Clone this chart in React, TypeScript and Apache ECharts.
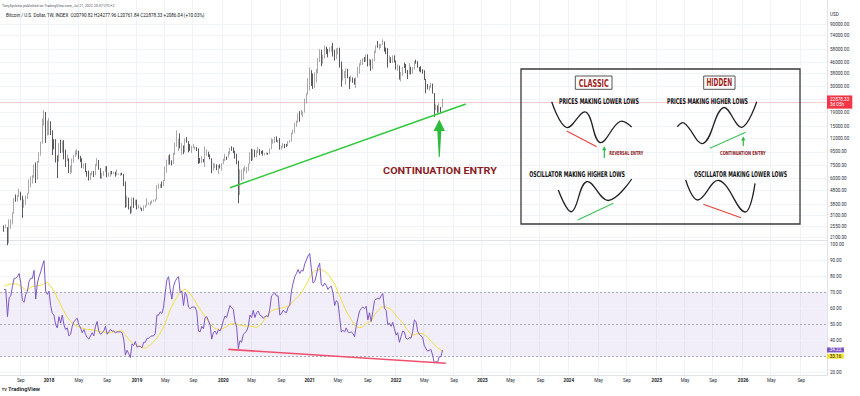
import React, { useEffect, useRef } from 'react';
import * as echarts from 'echarts';

// ---------------- data ----------------
const weekStart = '2017-06-12';
const weekTotal = 498;
const candleStartIndex = 2; // first candle = week of 2017-06-26
const firstOpen = 2590;

const closes: number[] = [
  // 2017
  2500, 2510, 1930, 2740, 2860, 3240, 4100, 4080, 4370, 4580, 4230, 3680, 3780, 4390, 4600, 5700, 6000, 6150, 7380, 5950, 8000, 9300, 11250, 15200, 19100, 13900, 14150,
  // 2018
  16200, 13600, 11550, 11500, 8250, 8080, 10380, 9600, 11450, 9550, 8200, 8450, 6800, 7000, 8350, 8900, 9400, 9650, 8700, 8250, 7350, 7700, 6750, 6500, 6150, 6380, 6750, 6350, 7400, 8200, 7000, 6300, 6400, 6700, 7300, 6250, 6500, 6700, 6600, 6600, 6350, 6400, 6400, 6400, 6350, 5600, 3800, 4000, 3600, 3250, 3950, 3850,
  // 2019
  4000, 3550, 3550, 3550, 3420, 3650, 3660, 3850, 3850, 3950, 4000, 4000, 4100, 5100, 5150, 5300, 5250, 5750, 6950, 8000, 8700, 8050, 8000, 9300, 10800, 10800, 11500, 10200, 10600, 9500, 11800, 11350, 10250, 10150, 10300, 10300, 10300, 10050, 8050, 7950, 8300, 8250, 9200, 9300, 9050, 8500, 7050, 7400, 7550, 7100, 7500, 7400, 7750,
  // 2020
  8200, 8700, 8600, 9300, 10100, 9700, 9650, 8550, 8000, 5350, 5850, 5900, 6800, 6900, 7150, 7700, 8900, 8750, 9700, 8900, 9450, 9750, 9350, 9300, 9000, 9100, 9250, 9200, 9950, 11100, 11550, 11900, 11650, 11700, 10250, 10330, 10920, 10780, 10660, 11380, 11500, 13050, 13800, 15480, 16000, 18700, 18200, 19150, 19250, 23850, 26450, 33000,
  // 2021
  38150, 35800, 32250, 33100, 38850, 48600, 57400, 45200, 50950, 59000, 57400, 55800, 58200, 60000, 56200, 49100, 56650, 58250, 46400, 34700, 35650, 35800, 39100, 35500, 34700, 35300, 34250, 31800, 35400, 39850, 44600, 47050, 48950, 48850, 51800, 45200, 48300, 42700, 48200, 54950, 61500, 61300, 61300, 63300, 65500, 59700, 57200, 49400, 50100, 46700, 50800, 47300,
  // 2022
  41850, 43100, 36300, 38200, 42400, 42200, 38400, 37700, 38400, 37800, 41300, 46850, 46400, 42250, 40400, 39500, 38500, 34300, 31300, 29450, 29450, 29850, 26600, 20550, 21050, 19300, 20850, 20790.82, 22878.33,
];

const highs: number[] = [
  2610, 2650, 2530, 2900, 2900, 3290, 4200, 4490, 4440, 4980, 4720, 4400, 4120, 4400, 4620, 5860, 6190, 6300, 7600, 7900, 8100, 9450, 11400, 17100, 19800, 19200, 16500,
  17250, 16300, 13900, 11900, 11900, 8950, 11100, 11800, 11600, 11700, 9900, 9100, 8500, 7500, 8450, 9000, 9750, 9950, 9700, 8870, 8500, 7750, 7790, 6800, 6850, 6550, 6800, 6800, 7700, 8500, 8250, 7150, 6600, 6800, 7400, 7400, 6600, 6800, 6800, 6700, 6700, 7000, 6500, 6550, 6600, 6450, 5650, 4400, 4250, 3650, 4250, 4250,
  4100, 4100, 3750, 3650, 3550, 3700, 3720, 4200, 3900, 3980, 4050, 4100, 4150, 5300, 5450, 5400, 5650, 5800, 7350, 8300, 8950, 9100, 8200, 9350, 11200, 13900, 12000, 13200, 11100, 10650, 12000, 12350, 11500, 10950, 10600, 10950, 10450, 10350, 10100, 8550, 8800, 8400, 10500, 9950, 9550, 9100, 8500, 7850, 7750, 7650, 7550, 7650, 7800,
  8450, 9200, 8750, 9600, 10200, 10500, 10300, 9700, 9200, 8150, 7000, 6950, 7200, 7450, 7300, 7750, 9450, 10050, 9950, 9900, 9750, 10400, 10000, 9650, 9800, 9300, 9450, 9350, 10150, 12100, 11900, 12400, 12500, 11800, 12100, 10600, 11100, 10950, 10950, 11500, 11750, 13350, 14100, 15950, 16500, 18800, 19500, 19900, 19400, 24300, 26800, 34800,
  41950, 40100, 37850, 38600, 40950, 49700, 58300, 57500, 52600, 61800, 60600, 58400, 60100, 61300, 64900, 57500, 59000, 59500, 59600, 46600, 40900, 39500, 41300, 41000, 35700, 36600, 35300, 34700, 35450, 42600, 45300, 48150, 49500, 50500, 52950, 52900, 48800, 48300, 49200, 56600, 62000, 67000, 63750, 63600, 69000, 66400, 59800, 59100, 51950, 50350, 52100, 52050,
  47550, 44450, 43500, 38950, 42600, 45850, 44700, 40300, 45400, 42600, 42400, 47000, 48200, 47000, 42400, 42950, 40800, 40050, 34300, 31400, 30650, 32200, 31700, 26800, 22000, 21550, 22400, 21000, 24277.96,
];

const lows: number[] = [
  2330, 2480, 1840, 1900, 2450, 2650, 3200, 3950, 3950, 4300, 4060, 2980, 3560, 3740, 4150, 4550, 5100, 5450, 6030, 5500, 5850, 7850, 8900, 11000, 15100, 11150, 12700,
  12800, 12800, 9000, 9950, 7900, 6000, 8000, 9300, 9400, 8350, 7300, 8100, 6550, 6450, 6600, 7850, 8700, 8950, 8350, 7950, 7150, 7050, 6650, 6150, 5750, 5800, 6300, 6100, 6300, 7400, 6950, 5950, 5900, 6250, 6700, 6100, 6150, 6150, 6400, 6450, 6150, 6300, 6350, 6250, 6300, 5200, 3550, 3600, 3450, 3200, 3250, 3550,
  3700, 3450, 3500, 3450, 3350, 3350, 3550, 3650, 3750, 3700, 3830, 3950, 3950, 4100, 4950, 5050, 5050, 5200, 5700, 6600, 7600, 7600, 7500, 7700, 9000, 10400, 9650, 10100, 9050, 9150, 9450, 11200, 9450, 9700, 9350, 10150, 9900, 9650, 7700, 7800, 7800, 7900, 7300, 8900, 8700, 8350, 6550, 6850, 7150, 6900, 6450, 7100, 6850,
  7650, 8100, 8250, 8600, 9100, 9700, 9300, 8450, 7650, 3850, 4450, 5700, 5850, 6750, 6500, 6800, 7650, 8100, 8200, 8650, 8650, 9300, 8950, 9200, 8900, 8950, 9050, 9050, 9150, 9950, 11000, 11100, 11350, 11150, 9900, 9900, 10250, 10150, 10400, 10550, 11200, 11400, 12950, 13200, 14800, 15900, 16200, 18200, 17600, 19000, 22300, 26050,
  28100, 30400, 28850, 29250, 32300, 37950, 46300, 43000, 45000, 49300, 53250, 50350, 54900, 55500, 51000, 47500, 48750, 52900, 42000, 30000, 33400, 34800, 31000, 34800, 28800, 32700, 32100, 31050, 29300, 35250, 37650, 43750, 43950, 46350, 46600, 42850, 43400, 39600, 40750, 46900, 54300, 59550, 57800, 59400, 62300, 55600, 53250, 42000, 45700, 45500, 45550, 45950,
  40500, 39650, 34000, 32900, 36300, 41700, 38000, 34300, 37450, 37200, 37600, 40500, 44950, 41900, 39200, 38550, 37700, 33700, 26700, 28650, 28000, 29300, 26550, 17600, 19800, 18950, 19000, 18950, 20761.84,
];

const rsiValues: number[] = [
  72, 72, 55, 67, 68, 74, 79, 79, 80, 82, 76, 65, 64, 69, 71, 77, 79, 79, 84, 66, 76, 80, 83, 87, 90, 71, 69,
  71, 62, 57, 56, 50, 48, 55, 51, 56, 50, 47, 48, 43, 44, 49, 52, 53, 54, 50, 48, 45, 47, 44, 42, 41, 43, 45, 43, 49, 52, 46, 44, 45, 46, 49, 44, 45.5, 47, 46, 46, 45, 45.5, 45.5, 45.5, 45, 41, 31, 34, 32, 29.5, 38, 37,
  39.5, 36, 36.5, 36.5, 35.5, 39, 39, 41.5, 41.5, 42.5, 43, 43, 44.5, 56, 56, 58, 57, 61, 70, 78, 80, 72, 66, 74, 77, 79, 80, 70, 71, 62, 70, 68, 61, 60, 61, 61, 61, 58, 46, 45.5, 49, 47.5, 54.5, 55, 52.5, 50, 41, 45, 46, 44, 47, 46, 48.5,
  52.5, 55.5, 54.5, 58.5, 62, 60.5, 59.5, 52, 48.5, 35, 40, 39, 44, 45, 46, 49, 56, 54.5, 59, 54.5, 57.5, 58.5, 56, 55.5, 54, 55, 55.5, 55, 60, 68, 69, 70, 68, 68, 56, 57, 59, 58, 57.5, 61, 62, 71, 76, 80, 82, 84.5, 82, 84, 83.5, 88, 90.5, 93,
  94.5, 85, 76, 77, 81, 86, 88.5, 75, 74, 76, 74.5, 72, 73.5, 74, 70, 62, 65, 64, 55, 45.5, 46.5, 45.5, 48, 45.5, 45, 45.5, 44.5, 42.5, 49, 54, 58.5, 60, 61, 60, 61.5, 53, 57.5, 52, 58, 65, 66, 66.5, 66, 68, 69.5, 60.5, 59, 50, 51, 49, 51.5, 47.5,
  43.5, 45, 39, 42.5, 46, 45.5, 41.5, 41, 42, 41.5, 45.5, 53, 52, 46, 44, 43, 42, 37, 35, 33.5, 34, 34.5, 31, 26, 27, 26.5, 30, 30, 34.22,
];

const rsiMaValues: number[] = [
  74, 74.5, 75, 75.3, 75.5, 75.5, 75.5, 75.5, 75.3, 74.8, 74, 73.3, 72.5, 71.6, 71.5, 72.5, 73.5, 73.9, 74, 74.1, 74.3, 74.5, 74.7, 75, 75.6, 76.2, 76.3,
  75.5, 74, 72.5, 71, 69, 66.5, 64.8, 62.5, 60.3, 58.5, 56.5, 54.7, 53.5, 52.2, 51, 50.2, 49.6, 49, 48.6, 48.2, 47.9, 47.6, 47.3, 47.1, 47, 46.9, 46.8, 46.6, 46.4, 46.1, 45.8, 45.6, 45.4, 45.2, 45.1, 45, 45.1, 45.2, 45.4, 45.5, 45.6, 45.8, 46, 46.1, 46.1, 45, 43.5, 42.3, 41, 39.8, 39, 38.2,
  37.6, 37, 36.6, 36.3, 35.9, 35.5, 35.3, 35.8, 36.7, 37.4, 38.3, 39.3, 40.5, 41.8, 43.2, 44.8, 46.6, 48.8, 51, 53.8, 56.6, 59.3, 61.5, 63.6, 65.5, 67.2, 69, 70.6, 71.2, 71.7, 72, 71.4, 70.6, 69.2, 67.8, 66.4, 64.8, 63, 61.2, 59.7, 58.1, 56.7, 55, 53.5, 51.9, 50.6, 49.3, 48.3, 47.8, 47.4, 47.1, 47.2, 47.4,
  47.7, 48.3, 48.9, 49.6, 50.3, 50.5, 50.7, 50.8, 50.5, 50, 49.8, 49.6, 49.3, 49.1, 49.1, 49.1, 49.1, 49.1, 48.8, 48.5, 48.3, 48.8, 49.8, 50.8, 52.2, 53.8, 55.4, 56.6, 57.7, 58.6, 59.2, 59.5, 59.7, 60, 60.2, 60.4, 60.7, 61, 61.2, 61.9, 62.6, 63.3, 64.5, 65.7, 66.7, 67.5, 68.7, 70.2, 71.7, 73.3, 75.2, 77.5,
  79.5, 81.6, 82.8, 83.6, 84.1, 84.4, 84.6, 84.5, 84, 83.3, 82.6, 81.6, 80.4, 78.8, 77, 75.3, 73, 70.6, 68.4, 65.5, 63, 60.6, 58.5, 56.6, 55, 53.2, 51.5, 50, 48.9, 48.3, 48.2, 48.3, 48.8, 49.8, 50.5, 51.2, 51.9, 52.6, 53.8, 56.3, 57.5, 58.6, 59.8, 60.8, 61.2, 61.1, 61, 60.6, 60.1, 59.5, 58.4, 57,
  55.6, 54.6, 53.4, 52.4, 51, 49.5, 47.8, 46.4, 45.2, 44, 43.5, 43.7, 44.1, 44.3, 44.4, 44.5, 44.4, 43.8, 43, 42.1, 41, 39.8, 38.8, 37.7, 36.6, 35.6, 34.8, 34.2, 33.16,
];

const priceTicks = [90000, 74000, 58000, 46000, 38000, 30000, 19000, 15000, 12000, 9500, 7500, 6000, 4800, 3800, 3100, 2550, 2100];
const priceGridOnly = [24000];
const rsiTicks = [100, 90, 80, 70, 60, 50, 40, 20];
const rsiGridOnly = [30];
const rsiBandLines = [70, 50, 30];
const priceTrend: [string, number][] = [['2020-02-03', 5060], ['2022-10-24', 22100]];
const rsiTrend: [string, number][] = [['2020-01-27', 34.6], ['2022-08-01', 25.9]];
const headerLine1 = 'TonySpilotro published on TradingView.com, Jul 21, 2022 20:37 UTC+2';
const symbolTitle = 'Bitcoin / U.S. Dollar, 1W, INDEX';
const changeText = '+2086.04 (+10.03%)';
const countdownText = '3d 05h';
const monthNames = ['Jan', 'Feb', 'Mar', 'Apr', 'May', 'Jun', 'Jul', 'Aug', 'Sep', 'Oct', 'Nov', 'Dec'];

// ---------------- helpers ----------------
const UI_FONT = 'Roboto, "Liberation Sans", sans-serif';
const NARROW_FONT = '"DejaVu Sans Condensed", "DejaVu Sans", sans-serif';

const categories: string[] = (() => {
  const t0 = Date.parse(weekStart + 'T00:00:00Z');
  const out: string[] = [];
  for (let i = 0; i < weekTotal; i++) out.push(new Date(t0 + i * 7 * 86400000).toISOString().slice(0, 10));
  return out;
})();

function isTick(cat: string): boolean {
  const m = +cat.slice(5, 7);
  const d = +cat.slice(8, 10);
  return (m === 1 || m === 5 || m === 9) && d <= 7;
}

const n = Math.min(closes.length, highs.length, lows.length);
const candleData = Array.from({ length: n }, (_, i) => [
  categories[candleStartIndex + i],
  i === 0 ? firstOpen : closes[i - 1],
  closes[i],
  lows[i],
  highs[i],
]);
const rsiData = rsiValues.map((v, i) => [categories[candleStartIndex + i], v]);
const rsiMaData = rsiMaValues.map((v, i) => [categories[candleStartIndex + i], v]);

let measureCtx: CanvasRenderingContext2D | null = null;
function measure(text: string, size: number, family: string, weight: string) {
  if (!measureCtx) measureCtx = document.createElement('canvas').getContext('2d');
  if (!measureCtx) return text.length * size * 0.55;
  measureCtx.font = `${weight} ${size}px ${family}`;
  return measureCtx.measureText(text).width || 1;
}

function squeezed(text: string, cx: number, cy: number, width: number, size: number, family: string, weight: string, fill: string) {
  const scaleX = width / measure(text, size, family, weight);
  return {
    type: 'text', x: cx, y: cy, scaleX, z: 100, silent: true,
    style: { text, fontSize: size, fontFamily: family, fontWeight: weight, fill, align: 'center', verticalAlign: 'middle', textAlign: 'center', textVerticalAlign: 'middle' },
  };
}

function sized(text: string, x: number, cy: number, width: number, base: number, family: string, weight: string, fill: string) {
  const size = (base * width) / measure(text, base, family, weight);
  return {
    type: 'text', x, y: cy, z: 100, silent: true,
    style: { text, fontSize: size, fontFamily: family, fontWeight: weight, fill, align: 'left', verticalAlign: 'middle', textAlign: 'left', textVerticalAlign: 'middle' },
  };
}

function curve(points: number[][], stroke = '#222', width = 1.3, smooth = 0.4) {
  return { type: 'polyline', z: 100, silent: true, shape: { points, smooth }, style: { stroke, lineWidth: width, fill: null } };
}

function seg(a: number[], b: number[], stroke: string, width = 1.1) {
  return { type: 'line', z: 100, silent: true, shape: { x1: a[0], y1: a[1], x2: b[0], y2: b[1] }, style: { stroke, lineWidth: width } };
}

// ---------------- option ----------------
function buildOption(): any {
  const lastClose = closes[n - 1];
  const gridColor = '#f0f3fa';
  const axisColor = '#e0e3eb';
  const labelColor = '#2a2e39';

  const xAxis = (gridIndex: number, showLabels: boolean) => ({
    type: 'category',
    gridIndex,
    data: categories,
    boundaryGap: true,
    axisLine: { show: true, lineStyle: { color: axisColor, width: 1 } },
    axisTick: { show: false },
    axisLabel: showLabels
      ? {
          show: true,
          interval: (_i: number, v: string) => isTick(v),
          margin: 3,
          fontSize: 4.6,
          color: labelColor,
          fontFamily: UI_FONT,
          formatter: (v: string) => {
            const m = +v.slice(5, 7);
            return m === 1 ? `{y|${v.slice(0, 4)}}` : monthNames[m - 1];
          },
          rich: { y: { fontWeight: 'bold', fontSize: 4.6, color: '#131722', fontFamily: UI_FONT } },
        }
      : { show: false },
    splitLine: { show: true, interval: (_i: number, v: string) => isTick(v), lineStyle: { color: gridColor, width: 1 } },
  });

  const yAxisCommon = {
    position: 'right',
    axisLine: { show: true, lineStyle: { color: axisColor, width: 1 } },
    axisTick: { show: false },
    axisLabel: { show: false },
    splitLine: { show: false },
  };

  const gridMarkLabel = {
    show: true,
    position: 'end',
    distance: 3,
    fontSize: 4.6,
    color: labelColor,
    fontFamily: UI_FONT,
    formatter: (p: any) => Number(p.value).toFixed(2),
  };

  return {
    animation: false,
    backgroundColor: '#ffffff',
    textStyle: { fontFamily: UI_FONT },
    grid: [
      { left: 0, right: 33, top: 0, height: 240, outerBoundsMode: 'none' },
      { left: 0, right: 33, top: 240, height: 135, outerBoundsMode: 'none' },
    ],
    xAxis: [xAxis(0, false), xAxis(1, true)],
    yAxis: [
      { type: 'log', logBase: 10, gridIndex: 0, min: 2016, max: 138000, ...yAxisCommon },
      { type: 'value', gridIndex: 1, min: 18.56, max: 102.94, ...yAxisCommon },
    ],
    series: [
      {
        type: 'candlestick',
        name: 'BTCUSD',
        xAxisIndex: 0,
        yAxisIndex: 0,
        data: candleData,
        encode: { x: 0, y: [1, 2, 3, 4] },
        barWidth: 1.0,
        z: 2,
        itemStyle: { color: '#cfcfcf', color0: '#111111', borderColor: '#858585', borderColor0: '#111111', borderWidth: 0.7 },
        markLine: {
          z: 1,
          silent: true,
          animation: false,
          symbol: ['none', 'none'],
          lineStyle: { color: gridColor, type: 'solid', width: 1 },
          label: gridMarkLabel,
          emphasis: { disabled: true },
          data: [
            ...priceTicks.map((v) => ({ yAxis: v })),
            ...priceGridOnly.map((v) => ({ yAxis: v, label: { show: false } })),
          ],
        },
      },
      {
        type: 'line',
        name: 'trend',
        xAxisIndex: 0,
        yAxisIndex: 0,
        data: priceTrend,
        symbol: 'none',
        z: 3,
        lineStyle: { color: '#2fc93a', width: 1.5 },
        markLine: {
          z: 4,
          silent: true,
          animation: false,
          symbol: ['none', 'none'],
          lineStyle: { color: 'rgba(242,54,69,0.3)', type: 'solid', width: 0.8 },
          label: {
            show: true,
            position: 'end',
            distance: 0,
            formatter: () => `${lastClose.toFixed(2)}\n${countdownText}`,
            backgroundColor: '#f23645',
            color: '#ffffff',
            fontSize: 4.6,
            lineHeight: 5.6,
            padding: [1, 3, 1, 3],
            fontFamily: UI_FONT,
            opacity: 1,
          },
          emphasis: { disabled: true },
          data: [{ yAxis: lastClose }],
        },
      },
      {
        type: 'line',
        name: 'RSI',
        xAxisIndex: 1,
        yAxisIndex: 1,
        data: rsiData,
        symbol: 'none',
        z: 3,
        lineStyle: { color: '#7e57c2', width: 1 },
        markArea: {
          silent: true,
          itemStyle: { color: 'rgba(126,87,194,0.1)' },
          data: [[{ yAxis: 30 }, { yAxis: 70 }]],
        },
        markLine: {
          z: 1,
          silent: true,
          animation: false,
          symbol: ['none', 'none'],
          lineStyle: { color: gridColor, type: 'solid', width: 1 },
          label: gridMarkLabel,
          emphasis: { disabled: true },
          data: [
            ...rsiTicks.map((v) => ({ yAxis: v })),
            ...rsiGridOnly.map((v) => ({ yAxis: v, label: { show: false } })),
            ...rsiBandLines.map((v) => ({
              yAxis: v,
              lineStyle: { color: '#9598a1', type: [2, 2], width: 0.8 },
              label: { show: false },
            })),
          ],
        },
      },
      {
        type: 'line',
        name: 'RSI MA',
        xAxisIndex: 1,
        yAxisIndex: 1,
        data: rsiMaData,
        symbol: 'none',
        z: 2,
        lineStyle: { color: '#f2dc3c', width: 1 },
      },
      {
        type: 'line',
        name: 'RSI trend',
        xAxisIndex: 1,
        yAxisIndex: 1,
        data: rsiTrend,
        symbol: 'none',
        z: 4,
        lineStyle: { color: '#f0506e', width: 1.7 },
      },
    ],
  };
}

function buildGraphics(chart: any): any[] {
  const els: any[] = [];
  const lastIdx = n - 1;
  const o = lastIdx === 0 ? firstOpen : closes[lastIdx - 1];
  const line2 = `${symbolTitle}  O${o.toFixed(2)} H${highs[lastIdx].toFixed(2)} L${lows[lastIdx].toFixed(2)} C${closes[lastIdx].toFixed(2)} ${changeText}`;

  // header
  els.push(sized(headerLine1, 2, 5.5, 113, 4, UI_FONT, 'normal', '#50535e'));
  els.push(sized(line2, 6, 15.5, 199, 4.5, UI_FONT, 'normal', '#131722'));
  els.push({ type: 'text', x: 830, y: 14, z: 100, silent: true, style: { text: 'USD', fontSize: 4.6, fontFamily: UI_FONT, fill: '#2a2e39', align: 'left', verticalAlign: 'middle', textAlign: 'left', textVerticalAlign: 'middle' } });

  // footer logo
  els.push(sized('TV', 1.7, 389.3, 5, 5.5, UI_FONT, 'bold', '#131722'));
  els.push(sized('TradingView', 8, 389.3, 32, 5.5, UI_FONT, '600', '#131722'));

  // RSI value tags
  const rsiLast = rsiValues[rsiValues.length - 1];
  const maLast = rsiMaValues[rsiMaValues.length - 1];
  const yP = chart.convertToPixel({ yAxisIndex: 1 }, rsiLast);
  const yMraw = chart.convertToPixel({ yAxisIndex: 1 }, maLast);
  const yM = Math.max(yMraw, yP + 6.3);
  const tagX = 827;
  els.push({ type: 'rect', z: 101, silent: true, shape: { x: tagX, y: yP - 2.5, width: 17, height: 5 }, style: { fill: '#7e57c2' } });
  els.push({ type: 'text', z: 102, silent: true, x: tagX + 8.5, y: yP, style: { text: rsiLast.toFixed(2), fontSize: 4.6, fontFamily: UI_FONT, fill: '#ffffff', align: 'center', verticalAlign: 'middle', textAlign: 'center', textVerticalAlign: 'middle' } });
  els.push({ type: 'rect', z: 101, silent: true, shape: { x: tagX, y: yM - 2.5, width: 17, height: 5 }, style: { fill: '#f5e23c' } });
  els.push({ type: 'text', z: 102, silent: true, x: tagX + 8.5, y: yM, style: { text: maLast.toFixed(2), fontSize: 4.6, fontFamily: UI_FONT, fill: '#131722', align: 'center', verticalAlign: 'middle', textAlign: 'center', textVerticalAlign: 'middle' } });

  // big annotation arrow + text
  els.push({
    type: 'polygon', z: 100, silent: true,
    shape: { points: [[439.3, 119.5], [445, 131], [441.3, 131], [439.8, 157], [438.8, 157], [437.3, 131], [433.6, 131]] },
    style: { fill: '#2dbb3b' },
  });
  els.push(squeezed('CONTINUATION ENTRY', 440, 171, 114, 9.5, UI_FONT, 'bold', '#8a1d24'));

  // divergence info box
  els.push({ type: 'rect', z: 99, silent: true, shape: { x: 521, y: 69, width: 279, height: 155 }, style: { fill: null, stroke: '#3a3a3a', lineWidth: 1.3 } });
  els.push({ type: 'rect', z: 100, silent: true, shape: { x: 575.3, y: 76, width: 36.7, height: 13.3 }, style: { fill: '#ffffff', stroke: '#555555', lineWidth: 1 } });
  els.push({ type: 'rect', z: 100, silent: true, shape: { x: 703.7, y: 76, width: 31.3, height: 13.3 }, style: { fill: '#ffffff', stroke: '#555555', lineWidth: 1 } });
  els.push(squeezed('CLASSIC', 593.7, 82.8, 30, 11, NARROW_FONT, 'bold', '#a11d1d'));
  els.push(squeezed('HIDDEN', 719.3, 82.8, 25.7, 11, NARROW_FONT, 'bold', '#a11d1d'));
  els.push(squeezed('PRICES MAKING LOWER LOWS', 599, 101.5, 80, 8, NARROW_FONT, 'bold', '#111111'));
  els.push(squeezed('PRICES MAKING HIGHER LOWS', 707.5, 101.5, 81, 8, NARROW_FONT, 'bold', '#111111'));
  els.push(squeezed('OSCILLATOR MAKING HIGHER LOWS', 577, 174.5, 96, 8, NARROW_FONT, 'bold', '#111111'));
  els.push(squeezed('OSCILLATOR MAKING LOWER LOWS', 740.5, 174.5, 93, 8, NARROW_FONT, 'bold', '#111111'));
  els.push(squeezed('REVERSAL ENTRY', 626.3, 153.3, 34, 5.5, NARROW_FONT, 'bold', '#8b1d1d'));
  els.push(squeezed('CONTINUATION ENTRY', 742.8, 153.3, 45.7, 5.5, NARROW_FONT, 'bold', '#8b1d1d'));

  // wave sketches
  els.push(curve([[551.7, 101.7], [566.7, 127.5], [585.7, 112], [600, 142.5], [620, 121.5], [631.7, 127]]));
  els.push(curve([[677.3, 126.7], [684, 123], [703.3, 143.3], [723.3, 107.7], [741.7, 127.3], [756.7, 101.7]]));
  els.push(curve([[558.3, 190], [571.7, 211.7], [586.7, 181.7], [608.3, 200.5], [631.7, 179]]));
  els.push(curve([[685.7, 180], [697.7, 200], [719, 180.5], [745, 212], [755, 183.3]]));
  els.push(seg([566.7, 131], [596.7, 146.7], '#e8413c'));
  els.push(seg([710, 148.3], [745.7, 132.3], '#3cc35a'));
  els.push(seg([577.7, 220], [613.3, 203.3], '#3cc35a'));
  els.push(seg([703.3, 204.3], [741, 217.7], '#e8413c'));

  // small arrows
  els.push(seg([604.3, 158], [604.3, 149], '#2fb84a', 1.2));
  els.push({ type: 'polygon', z: 100, silent: true, shape: { points: [[604.3, 146.3], [606.4, 150.2], [602.2, 150.2]] }, style: { fill: '#2fb84a' } });
  els.push(seg([743.3, 146], [743.3, 139.5], '#2fb84a', 1.2));
  els.push({ type: 'polygon', z: 100, silent: true, shape: { points: [[743.3, 136.5], [745.4, 140.4], [741.2, 140.4]] }, style: { fill: '#2fb84a' } });

  return els;
}

export default function App() {
  const ref = useRef<HTMLDivElement>(null);
  useEffect(() => {
    const el = ref.current;
    if (!el) return;
    const chart = echarts.init(el, undefined, { renderer: 'svg' });
    chart.setOption(buildOption());
    chart.setOption({ graphic: { elements: buildGraphics(chart) } });
    return () => chart.dispose();
  }, []);
  return (
    <div
      ref={ref}
      style={{ position: 'fixed', left: 0, top: 0, width: 860, height: 396, background: '#ffffff' }}
    />
  );
}
